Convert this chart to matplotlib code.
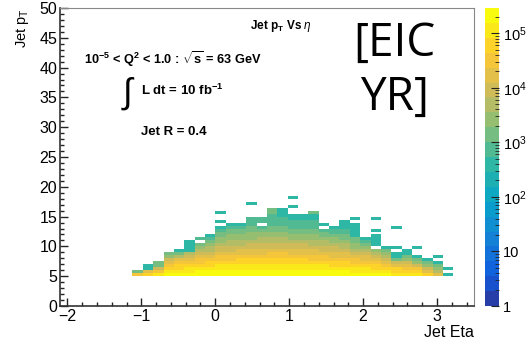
import numpy as np
import matplotlib
matplotlib.use("Agg")
import matplotlib.pyplot as plt
from matplotlib.colors import LinearSegmentedColormap, ListedColormap, BoundaryNorm
from matplotlib.ticker import MultipleLocator, FixedLocator, NullFormatter

plt.rcParams['font.family'] = ['Liberation Sans', 'DejaVu Sans']
plt.rcParams['mathtext.fontset'] = 'custom'
plt.rcParams['mathtext.rm'] = 'Liberation Sans'
plt.rcParams['mathtext.it'] = 'Liberation Sans:italic'
plt.rcParams['mathtext.bf'] = 'Liberation Sans:bold'

# jet eta binning (0.14 wide) and jet pT binning (0.5 GeV wide, starting at 5 GeV)
eta_lo = -1.12
eta_width = 0.14
pt_lo = 5.0
pt_width = 0.5

# weighted counts per eta bin, listed from the lowest pT bin upwards (0 = empty)
c0 = [25000, 1600]
c1 = [60000, 15000, 450, 420]
c2 = [120000, 40000, 9000, 1500, 1200]
c3 = [160000, 100000, 55000, 32000, 18000, 10000, 2000, 1400]
c4 = [190000, 130000, 75000, 45000, 25000, 14000, 6000, 1200, 450]
c5 = [210000, 150000, 90000, 55000, 32000, 18000, 9000, 4000, 500, 450, 420, 400]
c6 = [230000, 160000, 100000, 65000, 40000, 25000, 14000, 8000, 4500, 2500, 1300, 0, 1000]
c7 = [240000, 170000, 110000, 75000, 48000, 30000, 18000, 11000, 6500, 4000, 2500, 1500, 800,
      450]
c8 = [250000, 180000, 120000, 85000, 55000, 36000, 24000, 15000, 10000, 7000, 4500, 3000, 2000,
      1500, 1100, 700, 480, 0, 400, 0, 0, 400]
c9 = [260000, 190000, 130000, 90000, 60000, 40000, 27000, 18000, 12000, 8500, 6000, 4000, 2800,
      1900, 1500, 1100, 800, 450]
c10 = [270000, 200000, 135000, 95000, 65000, 45000, 30000, 20000, 14000, 9500, 6500, 4500, 3200,
       2200, 1700, 1300, 900, 480]
c11 = [270000, 200000, 140000, 100000, 70000, 48000, 32000, 22000, 15000, 10000, 7000, 5000,
       3500, 2500, 1900, 1400, 1100, 800, 600, 800, 0, 0, 0, 0, 400]
c12 = [270000, 205000, 140000, 100000, 72000, 50000, 34000, 23000, 16000, 11000, 7500, 5200,
       3600, 2600, 2000, 1500, 1000, 0, 600, 800]
c13 = [275000, 205000, 145000, 102000, 74000, 50000, 35000, 24000, 16000, 11000, 8000, 5500,
       3800, 2700, 2100, 1600, 1200, 900, 700, 600, 550, 1100, 1100]
c14 = [275000, 205000, 145000, 102000, 74000, 50000, 35000, 24000, 16000, 11000, 8000, 5500,
       3800, 2600, 2000, 1500, 1100, 800, 650, 550, 500, 450, 450]
c15 = [270000, 200000, 140000, 100000, 72000, 48000, 33000, 23000, 15000, 10500, 7500, 5000,
       3500, 2400, 1800, 1300, 1000, 700, 600, 500, 450, 0, 0, 400, 0, 0, 400]
c16 = [265000, 195000, 135000, 95000, 68000, 46000, 31000, 21000, 14000, 9500, 6800, 4600,
       3200, 2200, 1700, 1200, 900, 700, 560, 480, 440]
c17 = [255000, 185000, 125000, 90000, 63000, 43000, 29000, 19000, 13000, 9000, 6200, 4200,
       2900, 2000, 1500, 1100, 850, 650, 560, 500, 480, 1200]
c18 = [245000, 175000, 118000, 84000, 58000, 39000, 26000, 17000, 11500, 8000, 5500, 3700,
       2500, 1700, 1200, 700, 0, 450]
c19 = [235000, 165000, 110000, 78000, 53000, 35000, 23000, 15000, 10000, 7000, 4700, 3100,
       2000, 1300, 900, 600, 450]
c20 = [225000, 155000, 102000, 72000, 48000, 31000, 20000, 13000, 8500, 5800, 3900, 2500,
       1600, 1100, 800, 600, 500, 450, 450]
c21 = [210000, 145000, 95000, 65000, 42000, 27000, 17000, 11000, 6500, 3000, 2000, 1500, 1100,
       500, 460, 440, 430, 420, 0, 420]
c22 = [195000, 130000, 85000, 56000, 36000, 22000, 13000, 7500, 4200, 2500, 1500, 800, 450]
c23 = [175000, 118000, 75000, 48000, 30000, 18000, 10000, 5500, 2500, 0, 500, 450, 420, 420,
       0, 420, 0, 0, 0, 420]
c24 = [155000, 100000, 62000, 38000, 22000, 12000, 6000, 2500, 1100, 450]
c25 = [130000, 80000, 45000, 22000, 10000, 1500, 500, 450, 0, 420, 0, 0, 0, 0, 0, 0, 420]
c26 = [110000, 65000, 36000, 18000, 7000, 2500, 1100, 500, 420]
c27 = [85000, 48000, 24000, 10000, 3500, 1200, 450, 0, 0, 420]
c28 = [50000, 20000, 7000, 2500, 1100, 450]
c29 = [22000, 6000, 2200, 1100, 450, 0, 420]
c30 = [420, 0, 420]

columns = [c0, c1, c2, c3, c4, c5, c6, c7, c8, c9, c10, c11, c12, c13, c14, c15,
           c16, c17, c18, c19, c20, c21, c22, c23, c24, c25, c26, c27, c28, c29, c30]

z_min = 1.0
z_max = 2.9e5
n_contours = 20

# ROOT kBird palette
bird_stops = [0.0, 0.125, 0.25, 0.375, 0.5, 0.625, 0.75, 0.875, 1.0]
bird_r = [0.2082, 0.0592, 0.0780, 0.0232, 0.1802, 0.5301, 0.8186, 0.9956, 0.9764]
bird_g = [0.1664, 0.3599, 0.5041, 0.6419, 0.7178, 0.7492, 0.7328, 0.7862, 0.9832]
bird_b = [0.5293, 0.8684, 0.8385, 0.7914, 0.6425, 0.4662, 0.3499, 0.1968, 0.0539]
bird = LinearSegmentedColormap.from_list(
    'bird', list(zip(bird_stops, zip(bird_r, bird_g, bird_b))))
band_colors = [bird((i + 0.99) / n_contours) for i in range(n_contours)]
cmap = ListedColormap(band_colors)
levels = np.logspace(np.log10(z_min), np.log10(z_max), n_contours + 1)
norm = BoundaryNorm(levels, cmap.N)

n_pt = max(len(c) for c in columns)
grid = np.zeros((n_pt, len(columns)))
for i, col in enumerate(columns):
    grid[:len(col), i] = col
grid = np.ma.masked_where(grid <= 0, grid)

eta_edges = eta_lo + eta_width * np.arange(len(columns) + 1)
pt_edges = pt_lo + pt_width * np.arange(n_pt + 1)

fig = plt.figure(figsize=(5.29, 3.45), dpi=100)
ax = fig.add_axes([60 / 529, 1 - 306 / 345, 414 / 529, 298 / 345])
cax = fig.add_axes([485 / 529, 1 - 306 / 345, 14 / 529, 298 / 345])

mesh = ax.pcolormesh(eta_edges, pt_edges, grid, cmap=cmap, norm=norm)

ax.set_xlim(-2.1, 3.5)
ax.set_ylim(0, 50)
ax.xaxis.set_major_locator(FixedLocator([-2, -1, 0, 1, 2, 3]))
ax.xaxis.set_minor_locator(MultipleLocator(0.2))
ax.yaxis.set_major_locator(MultipleLocator(5))
ax.yaxis.set_minor_locator(MultipleLocator(1))
ax.set_xticklabels(['\u22122', '\u22121', '0', '1', '2', '3'])
ax.tick_params(which='both', direction='in', top=False, right=False, labelsize=11.5,
               color='#222222', width=1.0, pad=2)
ax.tick_params(which='major', length=6)
ax.tick_params(which='minor', length=3)
for side in ['left', 'bottom']:
    ax.spines[side].set_color('#333333')
    ax.spines[side].set_linewidth(1.2)
for side in ['top', 'right']:
    ax.spines[side].set_color('#888888')
    ax.spines[side].set_linewidth(0.8)

ax.set_xlabel('Jet Eta', fontsize=11.5, loc='right', labelpad=1)
ax.set_ylabel(r'Jet p$_{\mathrm{T}}$', fontsize=10.5, loc='top', labelpad=6)

bold = dict(fontweight='bold', color='black')
ax.text(0.89, 46.9, r'Jet p$_{\mathbf{T}}$ Vs $\eta$', ha='center', va='center',
        fontsize=8.5, **bold)
ax.text(-1.78, 41.4, r'10$^{\mathbf{-5}}$ < Q$^{\mathbf{2}}$ < 1.0 : $\sqrt{\mathbf{s}}$ = 63 GeV',
        ha='left', va='center', fontsize=9.2, **bold)
ax.text(-1.18, 35.6, r'$\int$', ha='center', va='center', fontsize=25)
ax.text(-1.0, 36.2, r'L dt = 10 fb$^{\mathbf{-1}}$', ha='left', va='center', fontsize=9.5,
        **bold)
ax.text(-1.0, 29.2, 'Jet R = 0.4', ha='left', va='center', fontsize=9.5, **bold)
ax.text(2.42, 39.4, '[EIC\nYR]', ha='center', va='center', fontsize=33,
        family=['Open Sans', 'DejaVu Sans'], linespacing=1.22)

cb = fig.colorbar(mesh, cax=cax, ticks=[])
cb.outline.set_visible(False)
cax.set_yscale('log')
cax.set_ylim(z_min, z_max)
major = [1, 10, 100, 1000, 10000, 100000]
minor = [m * 10 ** e for e in range(6) for m in range(2, 10) if m * 10 ** e < z_max]
cax.yaxis.set_major_locator(FixedLocator(major))
cax.yaxis.set_minor_locator(FixedLocator(minor))
cax.yaxis.set_minor_formatter(NullFormatter())
cax.set_yticklabels(['1', '10', r'10$^{2}$', r'10$^{3}$', r'10$^{4}$', r'10$^{5}$'])
cax.tick_params(which='both', direction='in', left=False, right=True, labelright=True,
                labelleft=False, labelsize=10.5, color='#222222', pad=3)
cax.tick_params(which='major', length=6)
cax.tick_params(which='minor', length=3)

fig.savefig('out.png', dpi=100)
